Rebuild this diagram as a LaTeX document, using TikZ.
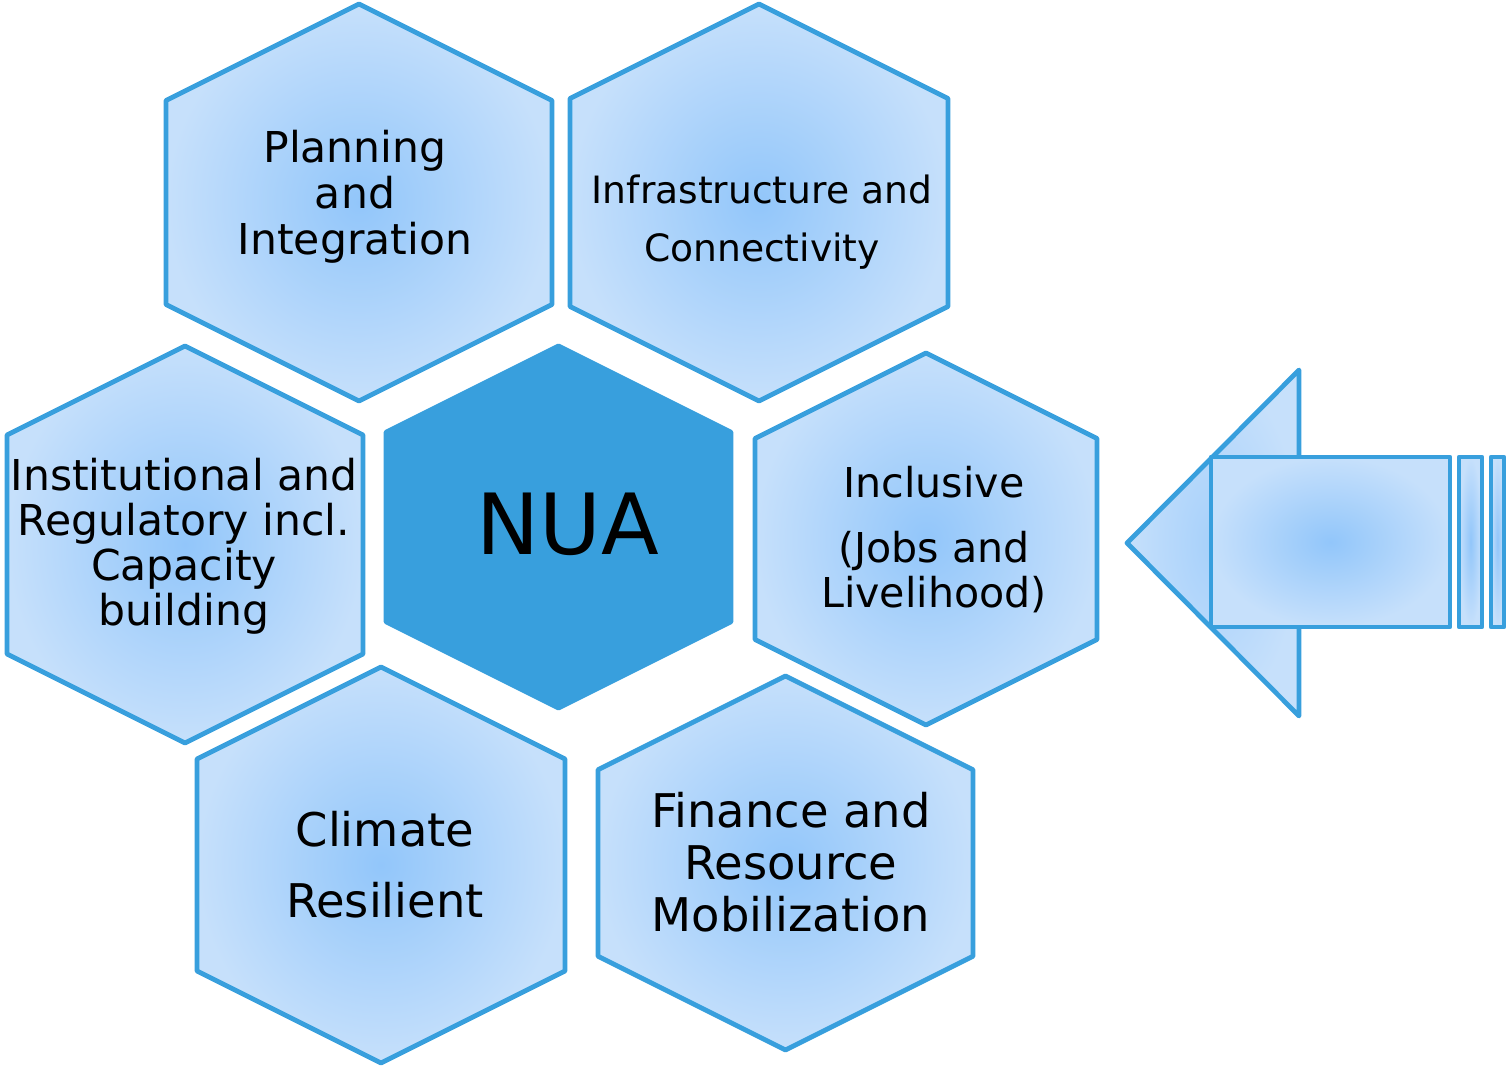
\documentclass[tikz,border=0pt]{standalone}
\usepackage{fontspec}
\setmainfont{DejaVu Sans}
\definecolor{hexline}{RGB}{56,159,221}
\definecolor{hexin}{RGB}{146,198,250}
\definecolor{hexout}{RGB}{198,224,251}
\tikzset{
  cell/.style={draw=hexline, line width=1.35pt, line join=round, inner color=hexin, outer color=hexout},
  core/.style={draw=hexline, fill=hexline, line width=1.35pt, line join=round},
  celltext/.style={align=center, inner sep=0pt, text=black}
}
% style, centre x, centre y, half width, half height
\newcommand\hexcell[5]{%
  \path[#1] (#2,#3-#5) -- (#2+#4,#3-#5+#4/2) -- (#2+#4,#3+#5-#4/2) -- (#2,#3+#5)
    -- (#2-#4,#3+#5-#4/2) -- (#2-#4,#3-#5+#4/2) -- cycle;}
\begin{document}
\begin{tikzpicture}[x=0.01cm, y=-0.01cm]
\useasboundingbox (0,0) rectangle (1506,1067);

\hexcell{cell}{359}{202.5}{193}{198.5}
\hexcell{cell}{759}{202.5}{189}{198.5}
\hexcell{cell}{185}{544.5}{178}{198.5}
\hexcell{core}{558.5}{527}{172.5}{181}
\hexcell{cell}{926}{539}{171}{186}
\hexcell{cell}{381}{865}{184}{198}
\hexcell{cell}{785.5}{863}{187.5}{187}

\node[celltext, font=\fontsize{12.1}{13.1}\selectfont] (plan) at (355,197) {Planning\\and\\Integration};
\node[celltext, font=\fontsize{10.7}{16.5}\selectfont] (infra) at (762,222) {Infrastructure and\\Connectivity};
\node[celltext, font=\fontsize{12.1}{12.8}\selectfont] (inst) at (184,546) {Institutional and\\Regulatory incl.\\Capacity\\building};
\node[celltext, font=\fontsize{24}{28}\selectfont] (nua) at (568,524.5) {NUA};
\node[celltext, font=\fontsize{11.7}{12.8}\selectfont] (incl) at (934,540) {Inclusive\\[5.7pt](Jobs and\\Livelihood)};
\node[celltext, font=\fontsize{13.2}{20.2}\selectfont] (clim) at (385,865) {Climate\\Resilient};
\node[celltext, font=\fontsize{13.2}{14.8}\selectfont] (fin) at (791,862) {Finance and\\Resource\\Mobilization};

% arrow
\path[cell, inner color=hexin!60!hexout] (1127,543) -- (1299,370) -- (1299,716) -- cycle;
\path[cell] (1211,457) rectangle (1450,627);
\path[cell] (1459,457) rectangle (1482,627);
\path[cell] (1491,457) rectangle (1504,627);
\end{tikzpicture}
\end{document}
